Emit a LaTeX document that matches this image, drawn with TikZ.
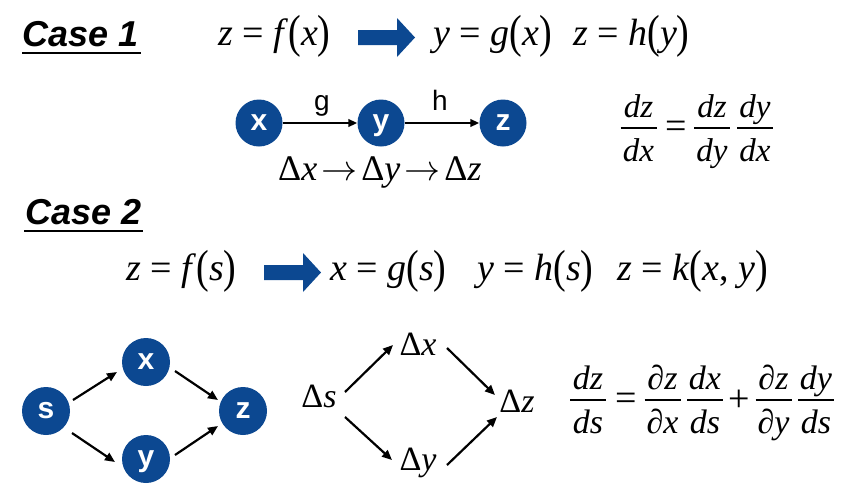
\documentclass[tikz,border=0pt]{standalone}
\usepackage{fix-cm}
\usepackage{fontspec}
\usepackage{graphicx}
\setmainfont{Liberation Serif}
\newfontfamily\arialf{Liberation Sans}
\usetikzlibrary{arrows.meta}
\definecolor{nodeblue}{RGB}{12,72,145}
\newcommand\mv[1]{\textit{#1}}
\newcommand\lpar{\raisebox{-0.07em}{\scalebox{1}[1.22]{(}}}
\newcommand\rpar{\raisebox{-0.07em}{\scalebox{1}[1.22]{)}}}
\newcommand\eqsp{\hspace{0.25em}=\hspace{0.25em}}
\newcommand\chainarrow{\hspace{4pt}$\rightarrow$\hspace{4pt}}
\newcommand\frc[5]{%
  \node[fracnum] (#1n) at (#2,#3-11) {#4};
  \node[fracnum] (#1d) at (#2,#3+33) {#5};
  \draw[fracbar] (#2-18,#3) -- (#2+18,#3);}
\begin{document}
\begin{tikzpicture}[x=1pt,y=-1pt,
  circ/.style={circle, fill=nodeblue, minimum size=47pt, inner sep=0pt, text=white,
    font=\arialf\bfseries\fontsize{30}{30}\selectfont, text height=15.5pt, text depth=0pt},
  arr/.style={line width=2.2pt, -{Triangle[length=10pt,width=8.5pt]}},
  arrs/.style={line width=2.4pt, -{Triangle[length=9pt,width=7.5pt]}},
  lab/.style={font=\arialf\fontsize{28}{28}\selectfont, anchor=base, inner sep=0pt},
  title/.style={font=\arialf\bfseries\itshape\fontsize{36}{36}\selectfont, anchor=base west, inner sep=0pt},
  uline/.style={line width=2.5pt},
  mrow/.style={font=\fontsize{38}{38}\selectfont, anchor=base west, inner sep=0pt},
  drow/.style={font=\fontsize{34}{34}\selectfont, anchor=base, inner sep=0pt},
  fracnum/.style={font=\fontsize{33}{33}\selectfont, anchor=base, inner sep=0pt},
  fracbar/.style={line width=1.8pt},
  opsign/.style={font=\fontsize{38}{38}\selectfont, anchor=base, inner sep=0pt},
  blockarrow/.style={fill=nodeblue}
]
\useasboundingbox (0,0) rectangle (843,499);

% ---------- Case 1 ----------
\node[title] (c1) at (22,46) {Case 1};
\draw[uline] ([shift={(0,7)}]c1.base west) -- ([shift={(3,7)}]c1.base east);

\node[mrow] (f1) at (218,45) {\mv{z}\eqsp\mv{f}\lpar\mv{x}\rpar};
\fill[blockarrow] (358,30) -- (397,30) -- (397,18) -- (415,37.5) -- (397,57) -- (397,45) -- (358,45) -- cycle;
\node[mrow] (g1) at (433,45) {\mv{y}\eqsp\mv{g}\lpar\mv{x}\rpar};
\node[mrow] (h1) at (573,45) {\mv{z}\eqsp\mv{h}\lpar\mv{y}\rpar};

\node[circ] (x1) at (259,123) {x};
\node[circ] (y1) at (381,123) {y};
\node[circ] (z1) at (503,123) {z};
\draw[arrs] (x1) -- (y1);
\draw[arrs] (y1) -- (z1);
\node[lab] (lg) at (322,110) {g};
\node[lab] (lh) at (440,110) {h};

\node[mrow, font=\fontsize{36}{36}\selectfont] (chain) at (278,180) {Δ\mv{x}\chainarrow Δ\mv{y}\chainarrow Δ\mv{z}};

\frc{a}{638.5}{128}{\mv{dz}}{\mv{dx}}
\node[opsign] (eqa) at (676,138) {=};
\frc{b}{712}{128}{\mv{dz}}{\mv{dy}}
\frc{c}{755}{128}{\mv{dy}}{\mv{dx}}

% ---------- Case 2 ----------
\node[title] (c2) at (25,224) {Case 2};
\draw[uline] ([shift={(-1,7)}]c2.base west) -- ([shift={(2,7)}]c2.base east);

\node[mrow] (f2) at (126,280) {\mv{z}\eqsp\mv{f}\lpar\mv{s}\rpar};
\fill[blockarrow] (264,265) -- (303,265) -- (303,253) -- (321,272.5) -- (303,292) -- (303,280) -- (264,280) -- cycle;
\node[mrow] (g2) at (330,280) {\mv{x}\eqsp\mv{g}\lpar\mv{s}\rpar};
\node[mrow] (h2) at (477,280) {\mv{y}\eqsp\mv{h}\lpar\mv{s}\rpar};
\node[mrow] (k2) at (617,280) {\mv{z}\eqsp\mv{k}\lpar\mv{x}, \mv{y}\rpar};

\node[circ, minimum size=48pt] (s2) at (46,411) {s};
\node[circ, minimum size=48pt] (x2) at (146,362) {x};
\node[circ, minimum size=48pt] (y2) at (146,459) {y};
\node[circ, minimum size=48pt] (z2) at (243,411) {z};
\draw[arr] ([shift={(27,-11)}]s2.center) -- ([shift={(-29,10)}]x2.center);
\draw[arr] ([shift={(26,22)}]s2.center) -- ([shift={(-31,3)}]y2.center);
\draw[arr] ([shift={(29,9)}]x2.center) -- ([shift={(-25,-11)}]z2.center);
\draw[arr] ([shift={(29,-4)}]y2.center) -- ([shift={(-25,15)}]z2.center);

\node[drow] (ds) at (319,407) {Δ\mv{s}};
\node[drow] (dx) at (418,355) {Δ\mv{x}};
\node[drow] (dy) at (418,470) {Δ\mv{y}};
\node[drow] (dz) at (517,412) {Δ\mv{z}};
\draw[arr] ([shift={(26,-15)}]ds.base) -- ([shift={(-25,-10)}]dx.base);
\draw[arr] ([shift={(26,10)}]ds.base) -- ([shift={(-26,-10)}]dy.base);
\draw[arr] ([shift={(29,-7)}]dx.base) -- ([shift={(-22,-17)}]dz.base);
\draw[arr] ([shift={(29,-5)}]dy.base) -- ([shift={(-20,5)}]dz.base);

\begin{scope}[fracnum/.style={font=\fontsize{34}{34}\selectfont, anchor=base, inner sep=0pt}]
\frc{p}{588}{400}{\mv{dz}}{\mv{ds}}
\node[opsign] (eqp) at (626,410) {=};
\frc{q}{662.5}{400}{∂\mv{z}}{∂\mv{x}}
\frc{r}{705}{400}{\mv{dx}}{\mv{ds}}
\node[opsign] (plus) at (739,411) {+};
\frc{t}{773.5}{400}{∂\mv{z}}{∂\mv{y}}
\frc{u}{816}{400}{\mv{dy}}{\mv{ds}}
\end{scope}
\end{tikzpicture}
\end{document}
